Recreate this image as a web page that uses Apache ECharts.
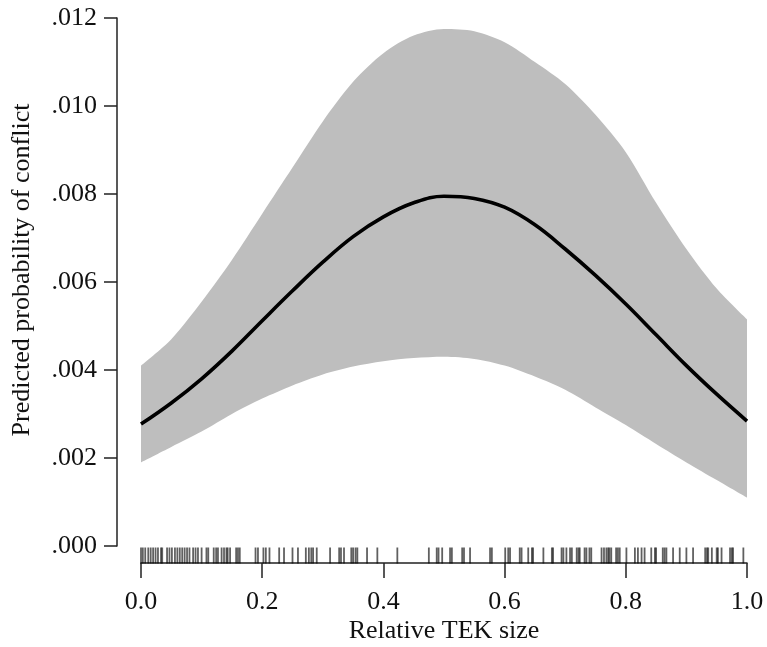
<!DOCTYPE html>
<html><head><meta charset="utf-8">
<script src="https://cdn.jsdelivr.net/npm/echarts@6/dist/echarts.min.js"></script>
<style>html,body{margin:0;padding:0;background:#fff}#c{width:767px;height:647px}</style>
</head><body><div id="c"></div>
<script>
// Relative TEK size grid
const xGrid = [0.00,0.05,0.10,0.15,0.20,0.25,0.30,0.35,0.40,0.45,0.50,0.55,0.60,0.65,0.70,0.75,0.80,0.85,0.90,0.95,1.00];
// Predicted probability of conflict (mean)
const meanProb = [0.00277,0.00325,0.00380,0.00443,0.00512,0.00580,0.00645,0.00703,0.00748,0.00780,0.00795,0.00790,0.00770,0.00730,0.00675,0.00615,0.00550,0.00480,0.00410,0.00345,0.00284];
// Upper and lower confidence bounds
const upperCI = [0.00410,0.00470,0.00555,0.00650,0.00755,0.00860,0.00965,0.01055,0.01120,0.01160,0.01175,0.01170,0.01145,0.01100,0.01050,0.00980,0.00895,0.00780,0.00675,0.00585,0.00515];
const lowerCI = [0.00190,0.00225,0.00260,0.00300,0.00335,0.00365,0.00390,0.00408,0.00420,0.00427,0.00430,0.00425,0.00410,0.00385,0.00355,0.00315,0.00275,0.00232,0.00190,0.00150,0.00110];
// Rug of observed values
const rugX = [0.000,0.003,0.007,0.012,0.016,0.020,0.024,0.028,0.033,0.035,0.043,0.047,0.051,0.056,0.060,0.064,0.068,0.072,0.076,0.080,0.086,0.090,0.094,0.100,0.108,0.111,0.120,0.124,0.127,0.133,0.137,0.141,
0.143,0.147,0.157,0.160,0.163,0.189,0.193,0.202,0.206,0.212,0.228,0.236,0.250,0.259,0.272,0.277,0.281,0.284,
0.290,0.312,0.327,0.330,0.335,0.347,0.350,0.354,0.357,0.373,0.390,0.423,
0.475,0.488,0.491,0.497,0.510,0.513,0.530,0.533,0.543,0.576,
0.579,0.601,0.606,0.609,0.625,0.628,0.639,0.645,0.647,0.664,0.678,0.680,0.694,0.697,0.702,0.708,0.711,0.719,0.722,
0.724,0.732,0.735,0.740,0.743,0.760,0.764,0.768,0.771,0.773,0.776,0.784,0.787,0.790,0.801,0.815,0.820,0.826,0.831,0.842,0.848,0.850,0.861,0.864,0.867,
0.878,0.889,0.900,0.911,0.931,0.934,0.936,0.942,0.950,0.952,0.958,0.972,0.975,0.977,0.994];
const yTitle = 'Predicted probability of conflict';
const xTitle = 'Relative TEK size';

const FONT = 'Liberation Serif';
const AX = '#222';
const pairs = a => xGrid.map((x,i)=>[x,a[i]]);

const chart = echarts.init(document.getElementById('c'), null, {renderer:'canvas'});
chart.setOption({
  animation:false,
  backgroundColor:'#fff',
  grid:[
    {left:141,right:20,top:18,bottom:101},
    {left:141,right:20,top:548,height:15}
  ],
  xAxis:[
    {gridIndex:0,type:'value',min:0,max:1,show:false},
    {gridIndex:1,type:'value',min:0,max:1,interval:0.2,
     axisLine:{show:true,onZero:false,lineStyle:{color:AX,width:1.5}},
     axisTick:{show:true,length:15,lineStyle:{color:AX,width:1.5}},
     axisLabel:{margin:26,fontFamily:FONT,fontSize:26,color:'#111',formatter:v=>v.toFixed(1)},
     splitLine:{show:false},
     name:xTitle,nameLocation:'middle',nameGap:55,
     nameTextStyle:{fontFamily:FONT,fontSize:26,color:'#111'}}
  ],
  yAxis:[
    {gridIndex:0,type:'value',min:0,max:0.012,interval:0.002,offset:24,
     axisLine:{show:true,onZero:false,lineStyle:{color:AX,width:1.5}},
     axisTick:{show:true,length:13,lineStyle:{color:AX,width:1.5}},
     axisLabel:{margin:20,fontFamily:FONT,fontSize:26,color:'#111',formatter:v=>v.toFixed(3).replace(/^0/,'')},
     splitLine:{show:false}},
    {gridIndex:1,type:'value',min:0,max:1,show:false}
  ],
  graphic:[
    {type:'text',x:22,y:270,rotation:Math.PI/2,
     style:{text:yTitle,font:'26px "Liberation Serif"',fill:'#111',textAlign:'center',textVerticalAlign:'middle'}}
  ],
  series:[
    {type:'line',xAxisIndex:0,yAxisIndex:0,data:pairs(upperCI),smooth:0.3,symbol:'none',
     lineStyle:{width:0},areaStyle:{color:'#bebebe',opacity:1},z:1},
    {type:'line',xAxisIndex:0,yAxisIndex:0,data:pairs(lowerCI),smooth:0.3,symbol:'none',
     lineStyle:{width:0},areaStyle:{color:'#ffffff',opacity:1},z:2},
    {type:'line',xAxisIndex:0,yAxisIndex:0,data:pairs(meanProb),smooth:0.4,symbol:'none',
     lineStyle:{width:3.6,color:'#000'},z:3},
    {type:'scatter',xAxisIndex:1,yAxisIndex:1,data:rugX.map(x=>[x,0.5]),
     symbol:'rect',symbolSize:[1.8,16],itemStyle:{color:'rgba(0,0,0,0.78)'},z:4}
  ]
});
</script></body></html>
